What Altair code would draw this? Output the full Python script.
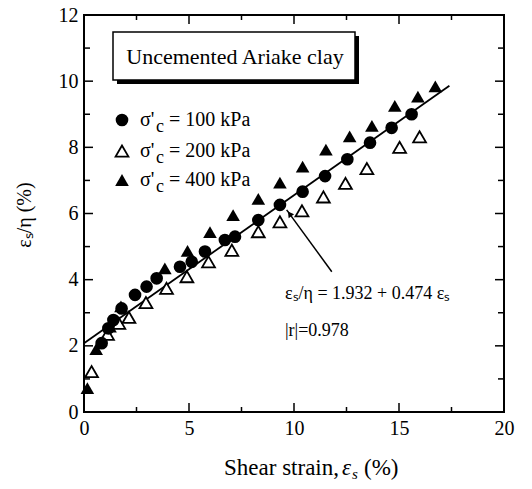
import altair as alt
import pandas as pd

# ---------------- data ----------------
c100_x = [0.84, 1.16, 1.40, 1.79, 2.43, 2.98, 3.46, 4.57, 5.13, 5.76, 6.71, 7.19,
          8.30, 9.33, 10.41, 11.48, 12.54, 13.62, 14.65, 15.60]
c100_y = [2.08, 2.53, 2.78, 3.13, 3.54, 3.79, 4.04, 4.39, 4.54, 4.85, 5.20, 5.30,
          5.80, 6.26, 6.66, 7.13, 7.64, 8.14, 8.59, 9.00]

c200_x = [0.36, 1.12, 1.66, 2.14, 2.95, 3.93, 4.90, 5.93, 7.04, 8.30, 9.33, 10.38,
          11.40, 12.45, 13.47, 15.03, 15.98]
c200_y = [1.22, 2.35, 2.68, 2.86, 3.31, 3.74, 4.09, 4.54, 4.89, 5.45, 5.75, 6.08,
          6.50, 6.91, 7.36, 8.00, 8.32]

c400_x = [0.16, 0.58, 1.24, 1.76, 3.85, 4.93, 6.00, 7.10, 8.30, 9.33, 10.41, 11.52,
          12.65, 13.71, 14.80, 15.90, 16.73]
c400_y = [0.72, 1.90, 2.58, 3.19, 4.34, 4.87, 5.44, 5.95, 6.44, 6.93, 7.42, 7.93,
          8.33, 8.65, 9.25, 9.53, 9.84]

fit_x = [0.0, 17.4]
fit_y = [2.08, 9.86]

arrow_x = [11.8, 9.65]
arrow_y = [4.24, 6.11]

x_major = [0, 5, 10, 15, 20]
x_minor = [2.5, 7.5, 12.5, 17.5]
y_major = [0, 2, 4, 6, 8, 10, 12]
y_minor = [1, 3, 5, 7, 9, 11]

legend_labels = ["= 100 kPa", "= 200 kPa", "= 400 kPa"]
box_title = "Uncemented Ariake clay"
equation = "εₛ/η = 1.932 + 0.474 εₛ"
corr = "|r|=0.978"

# ---------------- layout ----------------
FONT = "Liberation Serif"
W, H = 420, 397
CIRC = 160
TRI = 185

xscale = alt.Scale(domain=[0, 20], nice=False, zero=False)
yscale = alt.Scale(domain=[0, 12], nice=False, zero=False)

x_enc = alt.X("x:Q", scale=xscale,
              axis=alt.Axis(values=x_major, ticks=False, domain=False, grid=False,
                            labelFont=FONT, labelFontSize=20, labelColor="black",
                            labelPadding=6, labelFlush=False, title=None))
y_enc = alt.Y("y:Q", scale=yscale,
              axis=alt.Axis(values=y_major, ticks=False, domain=False, grid=False,
                            labelFont=FONT, labelFontSize=20, labelColor="black",
                            labelPadding=6, labelFlush=False, title=None))


def df(xs, ys):
    return pd.DataFrame({"x": xs, "y": ys})


one = pd.DataFrame({"a": [0]})

layers = []

# fit line
layers.append(alt.Chart(df(fit_x, fit_y)).mark_line(color="black", strokeWidth=1.8)
              .encode(x=x_enc, y=y_enc))

# data points
layers.append(alt.Chart(df(c200_x, c200_y)).mark_point(
    shape="triangle-up", filled=True, fill="white", stroke="black", strokeWidth=1.8,
    size=TRI - 20, opacity=1).encode(x=x_enc, y=y_enc))
layers.append(alt.Chart(df(c400_x, c400_y)).mark_point(
    shape="triangle-up", filled=True, color="black", size=TRI, opacity=1)
    .encode(x=x_enc, y=y_enc))
layers.append(alt.Chart(df(c100_x, c100_y)).mark_point(
    shape="circle", filled=True, color="black", size=CIRC, opacity=1)
    .encode(x=x_enc, y=y_enc))

# arrow
layers.append(alt.Chart(df(arrow_x, arrow_y)).mark_line(color="black", strokeWidth=1.5)
              .encode(x=x_enc, y=y_enc))
layers.append(alt.Chart(df(arrow_x[1:], arrow_y[1:])).mark_point(
    shape="triangle-up", filled=True, color="black", size=45, angle=324, opacity=1,
    yOffset=4, xOffset=3).encode(x=x_enc, y=y_enc))

# inward ticks on all four sides
def xticks(vals, length):
    d = pd.DataFrame({"x": vals})
    bot = alt.Chart(d).mark_rule(color="black", strokeWidth=1.5).encode(
        x=x_enc, y=alt.value(H), y2=alt.value(H - length))
    top = alt.Chart(d).mark_rule(color="black", strokeWidth=1.5).encode(
        x=x_enc, y=alt.value(0), y2=alt.value(length))
    return [bot, top]


def yticks(vals, length):
    d = pd.DataFrame({"y": vals})
    left = alt.Chart(d).mark_rule(color="black", strokeWidth=1.5).encode(
        y=y_enc, x=alt.value(0), x2=alt.value(length))
    right = alt.Chart(d).mark_rule(color="black", strokeWidth=1.5).encode(
        y=y_enc, x=alt.value(W), x2=alt.value(W - length))
    return [left, right]


layers += xticks(x_major, 9) + xticks(x_minor, 5) + yticks(y_major, 9) + yticks(y_minor, 6)

# title box with shadow
layers.append(alt.Chart(one).mark_rect(color="black").encode(
    x=alt.value(33), x2=alt.value(275), y=alt.value(21), y2=alt.value(69)))
layers.append(alt.Chart(one).mark_rect(fill="white", stroke="black", strokeWidth=1.5).encode(
    x=alt.value(29), x2=alt.value(271), y=alt.value(17), y2=alt.value(65)))
layers.append(alt.Chart(one).mark_text(font=FONT, fontSize=22, color="black",
                                       align="center", baseline="middle").encode(
    x=alt.value(151), y=alt.value(42), text=alt.value(box_title)))

# manual legend
rows_y = [105, 136, 165]
layers.append(alt.Chart(one).mark_point(shape="circle", filled=True, color="black",
                                        size=CIRC, opacity=1).encode(
    x=alt.value(38), y=alt.value(rows_y[0])))
layers.append(alt.Chart(one).mark_point(shape="triangle-up", filled=True, fill="white",
                                        stroke="black", strokeWidth=1.8, size=TRI - 20,
                                        opacity=1).encode(
    x=alt.value(38), y=alt.value(rows_y[1])))
layers.append(alt.Chart(one).mark_point(shape="triangle-up", filled=True, color="black",
                                        size=TRI, opacity=1).encode(
    x=alt.value(38), y=alt.value(rows_y[2])))
for ry, lab in zip(rows_y, legend_labels):
    layers.append(alt.Chart(one).mark_text(font=FONT, fontSize=20, color="black",
                                           align="left", baseline="middle").encode(
        x=alt.value(56), y=alt.value(ry), text=alt.value("σ'")))
    layers.append(alt.Chart(one).mark_text(font=FONT, fontSize=18, color="black",
                                           align="left", baseline="middle", dy=7).encode(
        x=alt.value(72), y=alt.value(ry), text=alt.value("c")))
    layers.append(alt.Chart(one).mark_text(font=FONT, fontSize=20, color="black",
                                           align="left", baseline="middle").encode(
        x=alt.value(85), y=alt.value(ry), text=alt.value(lab)))

# equation annotation
layers.append(alt.Chart(one).mark_text(font=FONT, fontSize=18, color="black",
                                       align="left", baseline="middle").encode(
    x=alt.value(201), y=alt.value(279), text=alt.value(equation)))
layers.append(alt.Chart(one).mark_text(font=FONT, fontSize=18, color="black",
                                       align="left", baseline="middle").encode(
    x=alt.value(201), y=alt.value(316), text=alt.value(corr)))

# axis titles
layers.append(alt.Chart(one).mark_text(font=FONT, fontSize=23, color="black",
                                       align="right", baseline="alphabetic").encode(
    x=alt.value(255), y=alt.value(460), text=alt.value("Shear strain,")))
layers.append(alt.Chart(one).mark_text(font=FONT, fontSize=23, color="black", fontStyle="italic",
                                       align="left", baseline="alphabetic").encode(
    x=alt.value(258), y=alt.value(460), text=alt.value("ε")))
layers.append(alt.Chart(one).mark_text(font=FONT, fontSize=15, color="black", fontStyle="italic",
                                       align="left", baseline="alphabetic", dy=4).encode(
    x=alt.value(268), y=alt.value(460), text=alt.value("s")))
layers.append(alt.Chart(one).mark_text(font=FONT, fontSize=23, color="black",
                                       align="left", baseline="alphabetic").encode(
    x=alt.value(280), y=alt.value(460), text=alt.value("(%)")))

layers.append(alt.Chart(one).mark_text(font=FONT, fontSize=20, color="black",
                                       align="center", baseline="middle", angle=270).encode(
    x=alt.value(-59), y=alt.value(200), text=alt.value("εₛ/η (%)")))

chart = alt.layer(*layers).properties(
    width=W, height=H,
    autosize=alt.AutoSizeParams(type="none"),
    padding={"left": 84, "top": 15, "right": 28, "bottom": 77},
    background="white",
).configure_view(stroke="black", strokeWidth=2)

chart.save("out.html", embed_options={"renderer": "svg", "actions": False})
